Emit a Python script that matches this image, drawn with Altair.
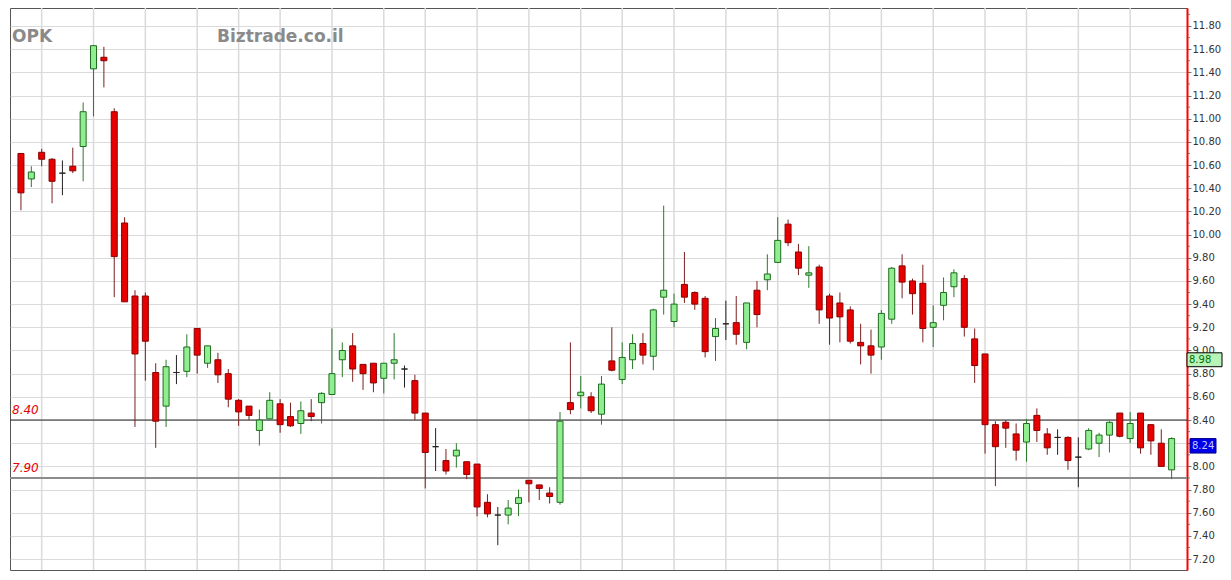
import altair as alt
import pandas as pd

# ---- data (daily candles, left to right) ----
opens = [10.70, 10.48, 10.71, 10.65, 10.53, 10.59, 10.76, 11.43, 11.53, 11.06,
         10.10, 9.47, 9.47, 8.81, 8.52, 8.81, 8.82, 9.19, 8.89, 8.92,
         8.80, 8.57, 8.52, 8.31, 8.41, 8.54, 8.43, 8.37, 8.46, 8.55,
         8.62, 8.92, 9.04, 8.88, 8.89, 8.76, 8.89, 8.84, 8.74, 8.46,
         8.17, 8.05, 8.09, 8.04, 8.02, 7.69, 7.58, 7.58, 7.68, 7.88,
         7.84, 7.77, 7.69, 8.55, 8.61, 8.60, 8.45, 8.91, 8.75, 8.92,
         9.06, 8.95, 9.46, 9.25, 9.57, 9.50, 9.45, 9.12, 9.23, 9.24,
         9.07, 9.52, 9.61, 9.76, 10.09, 9.85, 9.65, 9.72, 9.47, 9.41,
         9.35, 9.07, 9.04, 9.03, 9.27, 9.73, 9.60, 9.58, 9.20, 9.39,
         9.55, 9.62, 9.10, 8.97, 8.36, 8.38, 8.28, 8.21, 8.44, 8.28,
         8.25, 8.25, 8.08, 8.15, 8.20, 8.27, 8.46, 8.24, 8.46, 8.36,
         8.20, 7.97]
highs = [10.70, 10.59, 10.74, 10.66, 10.64, 10.75, 11.14, 11.63, 11.62, 11.09,
         10.15, 9.52, 9.50, 8.89, 8.92, 8.96, 9.14, 9.19, 9.04, 8.98,
         8.84, 8.58, 8.52, 8.49, 8.64, 8.58, 8.55, 8.56, 8.58, 8.64,
         9.19, 9.07, 9.15, 8.88, 8.89, 8.89, 9.15, 8.87, 8.79, 8.46,
         8.33, 8.15, 8.20, 8.04, 8.02, 7.76, 7.65, 7.71, 7.80, 7.88,
         7.84, 7.82, 8.47, 9.07, 8.78, 8.64, 8.78, 9.20, 9.07, 9.14,
         9.15, 9.36, 10.25, 9.49, 9.85, 9.51, 9.47, 9.28, 9.43, 9.47,
         9.41, 9.60, 9.83, 10.15, 10.13, 9.92, 9.90, 9.74, 9.49, 9.50,
         9.38, 9.23, 9.18, 9.35, 9.72, 9.83, 9.62, 9.74, 9.39, 9.63,
         9.70, 9.65, 9.19, 8.97, 8.39, 8.40, 8.37, 8.41, 8.50, 8.33,
         8.32, 8.26, 8.25, 8.33, 8.29, 8.39, 8.46, 8.47, 8.46, 8.36,
         8.32, 8.25]
lows = [10.21, 10.41, 10.59, 10.27, 10.34, 10.53, 10.46, 11.02, 11.27, 9.46,
        9.42, 8.34, 8.74, 8.16, 8.34, 8.71, 8.77, 8.80, 8.85, 8.72,
        8.51, 8.35, 8.40, 8.18, 8.41, 8.29, 8.34, 8.28, 8.39, 8.37,
        8.62, 8.77, 8.73, 8.66, 8.64, 8.63, 8.75, 8.68, 8.40, 7.81,
        7.96, 7.93, 7.99, 7.89, 7.57, 7.56, 7.32, 7.50, 7.57, 7.69,
        7.71, 7.68, 7.67, 8.45, 8.50, 8.46, 8.36, 8.82, 8.71, 8.84,
        8.88, 8.83, 9.31, 9.20, 9.41, 9.35, 8.94, 8.91, 9.09, 9.05,
        9.01, 9.20, 9.52, 9.76, 9.90, 9.65, 9.54, 9.23, 9.05, 9.07,
        9.06, 8.88, 8.80, 8.92, 9.23, 9.45, 9.31, 9.07, 9.03, 9.26,
        9.46, 9.12, 8.72, 8.11, 7.83, 8.16, 8.05, 8.04, 8.21, 8.10,
        8.10, 7.97, 7.82, 8.14, 8.08, 8.12, 8.25, 8.20, 8.11, 8.10,
        8.00, 7.89]
closes = [10.36, 10.54, 10.65, 10.46, 10.53, 10.55, 11.06, 11.63, 11.50, 9.81,
          9.42, 8.97, 9.08, 8.39, 8.86, 8.81, 9.03, 8.96, 9.04, 8.79,
          8.58, 8.47, 8.44, 8.40, 8.57, 8.36, 8.35, 8.48, 8.43, 8.63,
          8.80, 9.00, 8.84, 8.80, 8.72, 8.89, 8.92, 8.84, 8.46, 8.12,
          8.17, 7.96, 8.14, 7.93, 7.65, 7.59, 7.58, 7.64, 7.73, 7.85,
          7.81, 7.74, 8.39, 8.49, 8.64, 8.48, 8.71, 8.83, 8.94, 9.06,
          8.96, 9.35, 9.52, 9.40, 9.46, 9.40, 8.99, 9.19, 9.23, 9.14,
          9.41, 9.31, 9.66, 9.95, 9.93, 9.71, 9.67, 9.35, 9.28, 9.29,
          9.08, 9.04, 8.96, 9.32, 9.71, 9.59, 9.49, 9.19, 9.24, 9.50,
          9.67, 9.20, 8.87, 8.36, 8.17, 8.33, 8.14, 8.37, 8.31, 8.16,
          8.25, 8.05, 8.08, 8.31, 8.27, 8.38, 8.26, 8.37, 8.16, 8.22,
          8.00, 8.24]

# candle indexes where a new week starts (vertical grid lines)
week_starts = [2, 7, 12, 17, 21, 25, 30, 35, 39, 44, 49, 54, 58, 63, 68, 73,
               78, 83, 88, 93, 97, 102, 107]
y_ticks = [7.2, 7.4, 7.6, 7.8, 8.0, 8.2, 8.4, 8.6, 8.8, 9.0, 9.2, 9.4, 9.6,
           9.8, 10.0, 10.2, 10.4, 10.6, 10.8, 11.0, 11.2, 11.4, 11.6, 11.8]
minor_ticks = [7.3, 7.5, 7.7, 7.9, 8.1, 8.3, 8.5, 8.7, 8.9, 9.1, 9.3, 9.5,
               9.7, 9.9, 10.1, 10.3, 10.5, 10.7, 10.9, 11.1, 11.3, 11.5,
               11.7, 11.9]
level_values = [8.40, 7.90]
level_texts = ["8.40", "7.90"]
box_green_value = [8.98]
box_blue_value = [8.24]
symbol = "OPK"
site = "Biztrade.co.il"

df = pd.DataFrame({"i": list(range(len(opens))), "open": opens, "high": highs,
                   "low": lows, "close": closes})
df["dir"] = ["up" if c > o else ("down" if c < o else "flat")
             for o, c in zip(opens, closes)]

FONT = "DejaVu Sans"
xs = alt.Scale(domain=[-0.574, 112.0], nice=False, zero=False)
ys = alt.Scale(domain=[7.106, 11.955], nice=False, zero=False)
dirs = ["up", "down", "flat"]

yaxis = alt.Axis(orient="right", values=y_ticks, format=".2f", title=None,
                 grid=True, gridColor="#b4b4b4", gridDash=[1, 1], gridWidth=1,
                 domainColor="#ff0000", domainWidth=2, tickColor="#777777",
                 tickSize=4, labelFont=FONT, labelFontSize=10,
                 labelColor="#333333", labelPadding=1, labelOverlap=False,
                 labelBound=False, labelFlush=False)


def Y(field):
    return alt.Y(field, scale=ys, axis=yaxis)


def X(field):
    return alt.X(field, scale=xs, axis=None)


weeks = alt.Chart(pd.DataFrame({"w": week_starts})).mark_rule(
    color="#dadada", strokeWidth=1.5).encode(x=X("w:Q"))

minor = alt.Chart(pd.DataFrame({"m": minor_ticks})).mark_rule(
    color="#777777", strokeWidth=1).encode(
    x=alt.value(1178), x2=alt.value(1180), y=Y("m:Q"))

base = alt.Chart(df)
wicks = base.mark_rule(strokeWidth=1).encode(
    x=X("i:Q"), y=Y("low:Q"), y2="high:Q",
    color=alt.Color("dir:N", scale=alt.Scale(domain=dirs,
                    range=["#2b7a2b", "#7a1f1f", "#222222"]), legend=None))
bodies = base.mark_bar(size=6, strokeWidth=1).encode(
    x=X("i:Q"), y=Y("open:Q"), y2="close:Q",
    fill=alt.Fill("dir:N", scale=alt.Scale(domain=dirs,
                  range=["#90ee90", "#e60000", "#222222"]), legend=None),
    stroke=alt.Stroke("dir:N", scale=alt.Scale(domain=dirs,
                      range=["#1e6b1e", "#8a0000", "#222222"]), legend=None))

lv = pd.DataFrame({"v": level_values, "t": level_texts})
lvl840 = alt.Chart(lv.iloc[[0]]).mark_rule(color="#222222", strokeWidth=1).encode(
    y=Y("v:Q"))
lvl790 = alt.Chart(lv.iloc[[1]]).mark_rule(color="#8c8c8c", strokeWidth=2).encode(
    y=Y("v:Q"))
lvl_text = alt.Chart(lv).mark_text(
    align="left", baseline="alphabetic", dy=-6, font=FONT, fontSize=12,
    fontStyle="italic", color="#e60000").encode(
    x=alt.value(2), y=Y("v:Q"), text="t:N")

gbox_df = pd.DataFrame({"p": box_green_value})
gbox = alt.Chart(gbox_df).transform_calculate(p2="datum.p - 0.12").mark_rect(
    fill="#b8f4b8", stroke="#000000", strokeWidth=1).encode(
    x=alt.value(1177), x2=alt.value(1212), y=Y("p:Q"), y2="p2:Q")
gtext = alt.Chart(gbox_df).mark_text(
    align="left", baseline="middle", dy=7, font=FONT, fontSize=10,
    color="#007000").encode(
    x=alt.value(1179), y=Y("p:Q"), text=alt.Text("p:Q", format=".2f"))

bbox_df = pd.DataFrame({"p": box_blue_value})
bbox = alt.Chart(bbox_df).transform_calculate(p2="datum.p - 0.125").mark_rect(
    fill="#0000e8", stroke="#00008a", strokeWidth=1).encode(
    x=alt.value(1180), x2=alt.value(1206), y=Y("p:Q"), y2="p2:Q")
btext = alt.Chart(bbox_df).mark_text(
    align="left", baseline="middle", dy=7.5, font=FONT, fontSize=10,
    color="#c8c8ff").encode(
    x=alt.value(1182), y=Y("p:Q"), text=alt.Text("p:Q", format=".2f"))

title_style = dict(align="left", baseline="alphabetic", font=FONT, fontSize=17,
                   fontWeight="bold", color="#8a8a8a")
t_sym = alt.Chart(pd.DataFrame({"t": [symbol]})).mark_text(**title_style).encode(
    x=alt.value(2), y=alt.value(34), text="t:N")
t_site = alt.Chart(pd.DataFrame({"t": [site]})).mark_text(**title_style).encode(
    x=alt.value(207), y=alt.value(34), text="t:N")

chart = alt.layer(
    weeks, lvl840, lvl790, wicks, bodies, minor, lvl_text,
    gbox, gtext, bbox, btext, t_sym, t_site
).properties(
    width=1177, height=562,
    padding={"left": 2, "top": 0, "right": 36, "bottom": 2},
    autosize=alt.AutoSizeParams(type="none"),
    background="#ffffff",
).configure_view(stroke="#555555", strokeWidth=1)

chart.save("out.html", embed_options={"renderer": "svg", "actions": False})
